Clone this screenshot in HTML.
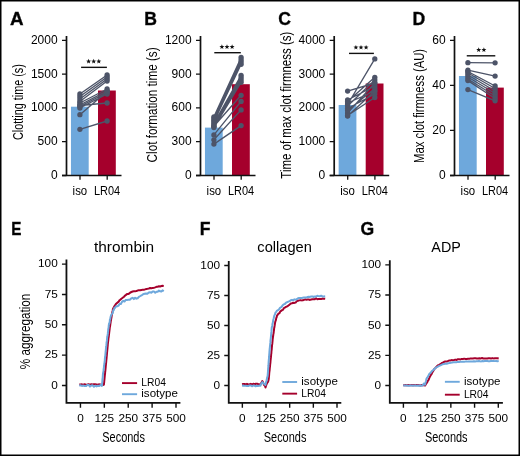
<!DOCTYPE html>
<html><head><meta charset="utf-8"><style>
html,body{margin:0;padding:0;background:#fff;}
svg{display:block;font-family:"Liberation Sans", sans-serif;will-change:transform;}
</style></head><body>
<svg width="520" height="456" viewBox="0 0 520 456">
<rect x="0" y="0" width="520" height="456" fill="#fff"/>
<text x="10.00" y="24.55" font-size="17.6" text-anchor="start" stroke="#111" stroke-width="0.35" font-weight="bold" textLength="13.6" lengthAdjust="spacingAndGlyphs">A</text>
<text x="22.60" y="102.10" font-size="14.6" text-anchor="middle" textLength="76" lengthAdjust="spacingAndGlyphs" transform="rotate(-90 22.60 102.10)">Clotting time (s)</text>
<rect x="70.95" y="106.7" width="17.75" height="68.8" fill="#6ea8dc"/>
<rect x="98.0" y="90.5" width="17.8" height="85.0" fill="#a5002c"/>
<path d="M66.5 35.9V176.3M62.0 175.5H121.5" stroke="#111" stroke-width="1.7" fill="none"/>
<path d="M62.0 40.40H66.5M62.0 74.17H66.5M62.0 107.95H66.5M62.0 141.72H66.5M62.0 175.50H66.5M80.0 175.5V179.8M107.2 175.5V179.8" stroke="#111" stroke-width="1.3" fill="none"/>
<text x="57.60" y="43.80" font-size="12" text-anchor="end">2000</text>
<text x="57.60" y="77.58" font-size="12" text-anchor="end">1500</text>
<text x="57.60" y="111.35" font-size="12" text-anchor="end">1000</text>
<text x="57.60" y="145.12" font-size="12" text-anchor="end">500</text>
<text x="57.60" y="178.90" font-size="12" text-anchor="end">0</text>
<text x="79.90" y="194.60" font-size="12.2" text-anchor="middle" textLength="14.6" lengthAdjust="spacingAndGlyphs">iso</text>
<text x="107.10" y="194.60" font-size="12.2" text-anchor="middle" textLength="26.2" lengthAdjust="spacingAndGlyphs">LR04</text>
<path d="M81.1 67.35H106.9" stroke="#111" stroke-width="1.4"/>
<polygon points="88.60,58.85 89.24,60.57 91.07,60.65 89.64,61.79 90.13,63.55 88.60,62.54 87.07,63.55 87.56,61.79 86.13,60.65 87.96,60.57" fill="#111"/>
<polygon points="93.70,58.85 94.34,60.57 96.17,60.65 94.74,61.79 95.23,63.55 93.70,62.54 92.17,63.55 92.66,61.79 91.23,60.65 93.06,60.57" fill="#111"/>
<polygon points="98.80,58.85 99.44,60.57 101.27,60.65 99.84,61.79 100.33,63.55 98.80,62.54 97.27,63.55 97.76,61.79 96.33,60.65 98.16,60.57" fill="#111"/>
<path d="M79.9 94L107.1 75M79.9 96.5L107.1 77M79.9 99L107.1 79M79.9 101.5L107.1 81M79.9 103L107.1 89M79.9 105L107.1 90.8M79.9 106.5L107.1 92.5M79.9 108L107.1 94M79.9 105.5L107.1 103M79.9 114.7L107.1 91.5M79.9 129.3L107.1 121" stroke="#4d5468" stroke-width="1.35" fill="none"/>
<circle cx="79.9" cy="94" r="2.65" fill="#4d5468"/><circle cx="107.1" cy="75" r="2.65" fill="#4d5468"/>
<circle cx="79.9" cy="96.5" r="2.65" fill="#4d5468"/><circle cx="107.1" cy="77" r="2.65" fill="#4d5468"/>
<circle cx="79.9" cy="99" r="2.65" fill="#4d5468"/><circle cx="107.1" cy="79" r="2.65" fill="#4d5468"/>
<circle cx="79.9" cy="101.5" r="2.65" fill="#4d5468"/><circle cx="107.1" cy="81" r="2.65" fill="#4d5468"/>
<circle cx="79.9" cy="103" r="2.65" fill="#4d5468"/><circle cx="107.1" cy="89" r="2.65" fill="#4d5468"/>
<circle cx="79.9" cy="105" r="2.65" fill="#4d5468"/><circle cx="107.1" cy="90.8" r="2.65" fill="#4d5468"/>
<circle cx="79.9" cy="106.5" r="2.65" fill="#4d5468"/><circle cx="107.1" cy="92.5" r="2.65" fill="#4d5468"/>
<circle cx="79.9" cy="108" r="2.65" fill="#4d5468"/><circle cx="107.1" cy="94" r="2.65" fill="#4d5468"/>
<circle cx="79.9" cy="105.5" r="2.65" fill="#4d5468"/><circle cx="107.1" cy="103" r="2.65" fill="#4d5468"/>
<circle cx="79.9" cy="114.7" r="2.65" fill="#4d5468"/><circle cx="107.1" cy="91.5" r="2.65" fill="#4d5468"/>
<circle cx="79.9" cy="129.3" r="2.65" fill="#4d5468"/><circle cx="107.1" cy="121" r="2.65" fill="#4d5468"/>
<text x="144.30" y="24.55" font-size="17.6" text-anchor="start" stroke="#111" stroke-width="0.35" font-weight="bold">B</text>
<text x="157.30" y="104.90" font-size="14.6" text-anchor="middle" textLength="115" lengthAdjust="spacingAndGlyphs" transform="rotate(-90 157.30 104.90)">Clot formation time (s)</text>
<rect x="204.95" y="127.6" width="17.75" height="47.900000000000006" fill="#6ea8dc"/>
<rect x="232.0" y="84.2" width="17.8" height="91.3" fill="#a5002c"/>
<path d="M200.5 35.9V176.3M196.0 175.5H255.5" stroke="#111" stroke-width="1.7" fill="none"/>
<path d="M196.0 40.40H200.5M196.0 74.17H200.5M196.0 107.95H200.5M196.0 141.72H200.5M196.0 175.50H200.5M214.0 175.5V179.8M241.2 175.5V179.8" stroke="#111" stroke-width="1.3" fill="none"/>
<text x="191.60" y="43.80" font-size="12" text-anchor="end">1200</text>
<text x="191.60" y="77.58" font-size="12" text-anchor="end">900</text>
<text x="191.60" y="111.35" font-size="12" text-anchor="end">600</text>
<text x="191.60" y="145.12" font-size="12" text-anchor="end">300</text>
<text x="191.60" y="178.90" font-size="12" text-anchor="end">0</text>
<text x="213.90" y="194.60" font-size="12.2" text-anchor="middle" textLength="14.6" lengthAdjust="spacingAndGlyphs">iso</text>
<text x="241.10" y="194.60" font-size="12.2" text-anchor="middle" textLength="26.2" lengthAdjust="spacingAndGlyphs">LR04</text>
<path d="M214.3 52.7H240.8" stroke="#111" stroke-width="1.4"/>
<polygon points="221.90,44.20 222.54,45.92 224.37,46.00 222.94,47.14 223.43,48.90 221.90,47.89 220.37,48.90 220.86,47.14 219.43,46.00 221.26,45.92" fill="#111"/>
<polygon points="227.00,44.20 227.64,45.92 229.47,46.00 228.04,47.14 228.53,48.90 227.00,47.89 225.47,48.90 225.96,47.14 224.53,46.00 226.36,45.92" fill="#111"/>
<polygon points="232.10,44.20 232.74,45.92 234.57,46.00 233.14,47.14 233.63,48.90 232.10,47.89 230.57,48.90 231.06,47.14 229.63,46.00 231.46,45.92" fill="#111"/>
<path d="M213.9 116.8L241.1 57.5M213.9 118.5L241.1 59.8M213.9 120.2L241.1 62M213.9 121.8L241.1 64.3M213.9 123.3L241.1 75.3M213.9 124.8L241.1 77.6M213.9 126.2L241.1 79.9M213.9 127.6L241.1 82.3M213.9 126.3L241.1 95.3M213.9 134.9L241.1 101.4M213.9 139.8L241.1 109.9M213.9 144.1L241.1 125.6" stroke="#4d5468" stroke-width="1.35" fill="none"/>
<circle cx="213.9" cy="116.8" r="2.65" fill="#4d5468"/><circle cx="241.1" cy="57.5" r="2.65" fill="#4d5468"/>
<circle cx="213.9" cy="118.5" r="2.65" fill="#4d5468"/><circle cx="241.1" cy="59.8" r="2.65" fill="#4d5468"/>
<circle cx="213.9" cy="120.2" r="2.65" fill="#4d5468"/><circle cx="241.1" cy="62" r="2.65" fill="#4d5468"/>
<circle cx="213.9" cy="121.8" r="2.65" fill="#4d5468"/><circle cx="241.1" cy="64.3" r="2.65" fill="#4d5468"/>
<circle cx="213.9" cy="123.3" r="2.65" fill="#4d5468"/><circle cx="241.1" cy="75.3" r="2.65" fill="#4d5468"/>
<circle cx="213.9" cy="124.8" r="2.65" fill="#4d5468"/><circle cx="241.1" cy="77.6" r="2.65" fill="#4d5468"/>
<circle cx="213.9" cy="126.2" r="2.65" fill="#4d5468"/><circle cx="241.1" cy="79.9" r="2.65" fill="#4d5468"/>
<circle cx="213.9" cy="127.6" r="2.65" fill="#4d5468"/><circle cx="241.1" cy="82.3" r="2.65" fill="#4d5468"/>
<circle cx="213.9" cy="126.3" r="2.65" fill="#4d5468"/><circle cx="241.1" cy="95.3" r="2.65" fill="#4d5468"/>
<circle cx="213.9" cy="134.9" r="2.65" fill="#4d5468"/><circle cx="241.1" cy="101.4" r="2.65" fill="#4d5468"/>
<circle cx="213.9" cy="139.8" r="2.65" fill="#4d5468"/><circle cx="241.1" cy="109.9" r="2.65" fill="#4d5468"/>
<circle cx="213.9" cy="144.1" r="2.65" fill="#4d5468"/><circle cx="241.1" cy="125.6" r="2.65" fill="#4d5468"/>
<text x="278.20" y="24.55" font-size="17.6" text-anchor="start" stroke="#111" stroke-width="0.35" font-weight="bold">C</text>
<text x="291.30" y="105.20" font-size="14.6" text-anchor="middle" textLength="147" lengthAdjust="spacingAndGlyphs" transform="rotate(-90 291.30 105.20)">Time of max clot firmness (s)</text>
<rect x="338.65" y="105" width="17.75" height="70.5" fill="#6ea8dc"/>
<rect x="365.7" y="83.5" width="17.8" height="92.0" fill="#a5002c"/>
<path d="M334.2 35.9V176.3M329.7 175.5H389.2" stroke="#111" stroke-width="1.7" fill="none"/>
<path d="M329.7 40.40H334.2M329.7 74.17H334.2M329.7 107.95H334.2M329.7 141.72H334.2M329.7 175.50H334.2M347.7 175.5V179.8M374.9 175.5V179.8" stroke="#111" stroke-width="1.3" fill="none"/>
<text x="325.30" y="43.80" font-size="12" text-anchor="end">4000</text>
<text x="325.30" y="77.58" font-size="12" text-anchor="end">3000</text>
<text x="325.30" y="111.35" font-size="12" text-anchor="end">2000</text>
<text x="325.30" y="145.12" font-size="12" text-anchor="end">1000</text>
<text x="325.30" y="178.90" font-size="12" text-anchor="end">0</text>
<text x="347.60" y="194.60" font-size="12.2" text-anchor="middle" textLength="14.6" lengthAdjust="spacingAndGlyphs">iso</text>
<text x="374.80" y="194.60" font-size="12.2" text-anchor="middle" textLength="26.2" lengthAdjust="spacingAndGlyphs">LR04</text>
<path d="M349.0 53.4H373.9" stroke="#111" stroke-width="1.4"/>
<polygon points="355.90,44.90 356.54,46.62 358.37,46.70 356.94,47.84 357.43,49.60 355.90,48.59 354.37,49.60 354.86,47.84 353.43,46.70 355.26,46.62" fill="#111"/>
<polygon points="361.00,44.90 361.64,46.62 363.47,46.70 362.04,47.84 362.53,49.60 361.00,48.59 359.47,49.60 359.96,47.84 358.53,46.70 360.36,46.62" fill="#111"/>
<polygon points="366.10,44.90 366.74,46.62 368.57,46.70 367.14,47.84 367.63,49.60 366.10,48.59 364.57,49.60 365.06,47.84 363.63,46.70 365.46,46.62" fill="#111"/>
<path d="M347.59999999999997 91.1L374.8 83M347.59999999999997 104.5L374.8 58.9M347.59999999999997 100L374.8 86M347.59999999999997 101.5L374.8 77.3M347.59999999999997 103L374.8 91M347.59999999999997 106L374.8 80M347.59999999999997 108.5L374.8 94M347.59999999999997 110.5L374.8 88.5M347.59999999999997 113L374.8 83M347.59999999999997 115.5L374.8 97.5M347.59999999999997 116L374.8 91" stroke="#4d5468" stroke-width="1.35" fill="none"/>
<circle cx="347.59999999999997" cy="91.1" r="2.65" fill="#4d5468"/><circle cx="374.8" cy="83" r="2.65" fill="#4d5468"/>
<circle cx="347.59999999999997" cy="104.5" r="2.65" fill="#4d5468"/><circle cx="374.8" cy="58.9" r="2.65" fill="#4d5468"/>
<circle cx="347.59999999999997" cy="100" r="2.65" fill="#4d5468"/><circle cx="374.8" cy="86" r="2.65" fill="#4d5468"/>
<circle cx="347.59999999999997" cy="101.5" r="2.65" fill="#4d5468"/><circle cx="374.8" cy="77.3" r="2.65" fill="#4d5468"/>
<circle cx="347.59999999999997" cy="103" r="2.65" fill="#4d5468"/><circle cx="374.8" cy="91" r="2.65" fill="#4d5468"/>
<circle cx="347.59999999999997" cy="106" r="2.65" fill="#4d5468"/><circle cx="374.8" cy="80" r="2.65" fill="#4d5468"/>
<circle cx="347.59999999999997" cy="108.5" r="2.65" fill="#4d5468"/><circle cx="374.8" cy="94" r="2.65" fill="#4d5468"/>
<circle cx="347.59999999999997" cy="110.5" r="2.65" fill="#4d5468"/><circle cx="374.8" cy="88.5" r="2.65" fill="#4d5468"/>
<circle cx="347.59999999999997" cy="113" r="2.65" fill="#4d5468"/><circle cx="374.8" cy="83" r="2.65" fill="#4d5468"/>
<circle cx="347.59999999999997" cy="115.5" r="2.65" fill="#4d5468"/><circle cx="374.8" cy="97.5" r="2.65" fill="#4d5468"/>
<circle cx="347.59999999999997" cy="116" r="2.65" fill="#4d5468"/><circle cx="374.8" cy="91" r="2.65" fill="#4d5468"/>
<text x="412.60" y="24.55" font-size="17.6" text-anchor="start" stroke="#111" stroke-width="0.35" font-weight="bold">D</text>
<text x="424.30" y="105.90" font-size="14.6" text-anchor="middle" textLength="114" lengthAdjust="spacingAndGlyphs" transform="rotate(-90 424.30 105.90)">Max clot firmness (AU)</text>
<rect x="458.95" y="76" width="17.75" height="99.5" fill="#6ea8dc"/>
<rect x="486.0" y="87.6" width="17.8" height="87.9" fill="#a5002c"/>
<path d="M454.5 35.9V176.3M450.0 175.5H509.5" stroke="#111" stroke-width="1.7" fill="none"/>
<path d="M450.0 40.40H454.5M450.0 85.43H454.5M450.0 130.47H454.5M450.0 175.50H454.5M468.0 175.5V179.8M495.2 175.5V179.8" stroke="#111" stroke-width="1.3" fill="none"/>
<text x="445.60" y="43.80" font-size="12" text-anchor="end">60</text>
<text x="445.60" y="88.83" font-size="12" text-anchor="end">40</text>
<text x="445.60" y="133.87" font-size="12" text-anchor="end">20</text>
<text x="445.60" y="178.90" font-size="12" text-anchor="end">0</text>
<text x="467.90" y="194.60" font-size="12.2" text-anchor="middle" textLength="14.6" lengthAdjust="spacingAndGlyphs">iso</text>
<text x="495.10" y="194.60" font-size="12.2" text-anchor="middle" textLength="26.2" lengthAdjust="spacingAndGlyphs">LR04</text>
<path d="M466.75 55.8H495.3" stroke="#111" stroke-width="1.4"/>
<polygon points="478.70,47.30 479.34,49.02 481.17,49.10 479.74,50.24 480.23,52.00 478.70,50.99 477.17,52.00 477.66,50.24 476.23,49.10 478.06,49.02" fill="#111"/>
<polygon points="483.90,47.30 484.54,49.02 486.37,49.10 484.94,50.24 485.43,52.00 483.90,50.99 482.37,52.00 482.86,50.24 481.43,49.10 483.26,49.02" fill="#111"/>
<path d="M467.9 62.7L495.1 62.8M467.9 70.2L495.1 76.1M467.9 71.5L495.1 86M467.9 73L495.1 88.5M467.9 75L495.1 91M467.9 77L495.1 93.5M467.9 79L495.1 96M467.9 80.6L495.1 98.5M467.9 89.6L495.1 100.8" stroke="#4d5468" stroke-width="1.35" fill="none"/>
<circle cx="467.9" cy="62.7" r="2.65" fill="#4d5468"/><circle cx="495.1" cy="62.8" r="2.65" fill="#4d5468"/>
<circle cx="467.9" cy="70.2" r="2.65" fill="#4d5468"/><circle cx="495.1" cy="76.1" r="2.65" fill="#4d5468"/>
<circle cx="467.9" cy="71.5" r="2.65" fill="#4d5468"/><circle cx="495.1" cy="86" r="2.65" fill="#4d5468"/>
<circle cx="467.9" cy="73" r="2.65" fill="#4d5468"/><circle cx="495.1" cy="88.5" r="2.65" fill="#4d5468"/>
<circle cx="467.9" cy="75" r="2.65" fill="#4d5468"/><circle cx="495.1" cy="91" r="2.65" fill="#4d5468"/>
<circle cx="467.9" cy="77" r="2.65" fill="#4d5468"/><circle cx="495.1" cy="93.5" r="2.65" fill="#4d5468"/>
<circle cx="467.9" cy="79" r="2.65" fill="#4d5468"/><circle cx="495.1" cy="96" r="2.65" fill="#4d5468"/>
<circle cx="467.9" cy="80.6" r="2.65" fill="#4d5468"/><circle cx="495.1" cy="98.5" r="2.65" fill="#4d5468"/>
<circle cx="467.9" cy="89.6" r="2.65" fill="#4d5468"/><circle cx="495.1" cy="100.8" r="2.65" fill="#4d5468"/>
<text x="11.20" y="234.60" font-size="17.6" text-anchor="start" stroke="#111" stroke-width="0.35" font-weight="bold" textLength="10.2" lengthAdjust="spacingAndGlyphs">E</text>
<text x="124.00" y="251.50" font-size="14" text-anchor="middle" textLength="60" lengthAdjust="spacingAndGlyphs">thrombin</text>
<path d="M66.45 259.5V403.75M65.65 402.85H180.4" stroke="#111" stroke-width="1.8" fill="none"/>
<path d="M61.95 264.10H66.45M61.95 294.45H66.45M61.95 324.80H66.45M61.95 355.15H66.45M61.95 385.50H66.45M80.45 402.85V407.65000000000003M104.34 402.85V407.65000000000003M128.22 402.85V407.65000000000003M152.11 402.85V407.65000000000003M176.00 402.85V407.65000000000003" stroke="#111" stroke-width="1.4" fill="none"/>
<text x="57.75" y="267.40" font-size="11.8" text-anchor="end">100</text>
<text x="57.75" y="297.75" font-size="11.8" text-anchor="end">75</text>
<text x="57.75" y="328.10" font-size="11.8" text-anchor="end">50</text>
<text x="57.75" y="358.45" font-size="11.8" text-anchor="end">25</text>
<text x="57.75" y="388.80" font-size="11.8" text-anchor="end">0</text>
<text x="80.45" y="422.40" font-size="11.8" text-anchor="middle">0</text>
<text x="104.34" y="422.40" font-size="11.8" text-anchor="middle">125</text>
<text x="128.22" y="422.40" font-size="11.8" text-anchor="middle">250</text>
<text x="152.11" y="422.40" font-size="11.8" text-anchor="middle">375</text>
<text x="176.00" y="422.40" font-size="11.8" text-anchor="middle">500</text>
<text x="123.62" y="442.00" font-size="14.4" text-anchor="middle" textLength="42.6" lengthAdjust="spacingAndGlyphs">Seconds</text>
<path d="M79.30 384.60L80.64 384.48L81.97 384.36L83.31 384.71L84.65 384.30L85.99 384.63L87.33 384.51L88.66 384.29L90.00 384.61L91.26 384.28L92.53 384.55L93.79 384.30L95.05 384.31L96.32 384.55L97.58 384.83L98.85 384.34L100.11 384.41L101.37 384.69L102.64 384.91L103.90 384.65L104.03 383.31L104.15 382.50L104.28 380.63L104.40 379.98L104.53 378.36L104.65 377.04L104.78 375.80L104.90 374.72L105.03 373.85L105.15 372.19L105.28 371.25L105.40 370.07L105.53 368.67L105.65 367.57L105.78 366.01L105.90 364.79L106.01 363.69L106.12 362.82L106.23 361.43L106.34 360.15L106.46 359.13L106.57 357.83L106.68 356.52L106.79 355.66L106.90 354.39L107.01 352.87L107.12 351.89L107.23 350.65L107.34 349.69L107.46 348.38L107.57 346.87L107.68 346.15L107.79 344.34L107.90 343.34L108.05 342.36L108.19 340.73L108.34 339.75L108.48 338.22L108.63 337.44L108.78 336.29L108.92 334.94L109.07 333.94L109.22 332.33L109.36 331.38L109.51 330.10L109.65 328.87L109.80 327.57L109.99 326.64L110.17 325.51L110.36 323.98L110.55 322.91L110.74 321.29L110.92 320.54L111.11 319.30L111.30 318.35L111.53 317.01L111.76 315.42L111.99 314.28L112.21 313.26L112.44 311.59L112.67 310.69L112.90 309.27L113.60 307.80L114.30 306.32L115.00 305.39L115.88 304.04L116.75 303.22L117.62 302.42L118.50 301.86L119.38 300.41L120.25 299.76L121.12 298.93L122.00 298.27L123.00 297.46L124.00 296.73L125.00 295.56L126.00 294.90L127.00 294.10L128.12 293.97L129.24 293.52L130.36 292.46L131.48 291.97L132.60 291.51L133.86 291.27L135.12 291.21L136.38 291.04L137.64 290.57L138.90 290.15L140.14 290.19L141.38 289.91L142.61 289.80L143.85 289.82L145.09 289.38L146.33 289.01L147.56 288.83L148.80 288.62L150.08 287.92L151.37 288.25L152.65 287.90L153.93 287.70L155.22 287.38L156.50 286.82L157.71 286.68L158.92 286.32L160.12 286.54L161.33 285.99L162.54 285.85L163.75 286.00" stroke="#a5002c" stroke-width="2" fill="none" stroke-linejoin="round"/>
<path d="M79.30 385.80L80.64 385.29L81.97 385.91L83.31 385.58L84.65 386.06L85.99 386.11L87.33 385.01L88.66 384.91L90.00 386.57L91.32 385.39L92.64 385.30L93.97 386.79L95.29 385.71L96.61 386.41L97.93 385.65L99.26 385.94L100.58 384.93L101.90 385.87L102.02 385.10L102.14 383.17L102.25 382.37L102.37 381.00L102.49 378.55L102.61 378.70L102.73 377.13L102.85 375.31L102.96 373.53L103.08 373.97L103.20 371.95L103.37 371.16L103.54 370.20L103.71 368.59L103.88 367.72L104.05 365.39L104.22 364.92L104.39 362.93L104.56 362.63L104.73 361.24L104.90 358.39L105.03 357.23L105.15 356.16L105.28 356.42L105.40 354.12L105.53 353.27L105.65 351.38L105.78 350.55L105.90 349.07L106.03 347.76L106.15 347.00L106.28 345.76L106.40 345.16L106.53 343.48L106.65 342.73L106.78 341.35L106.90 340.38L107.07 338.49L107.25 336.22L107.42 336.36L107.59 335.31L107.76 333.94L107.94 332.01L108.11 331.05L108.28 328.79L108.45 328.77L108.63 327.00L108.80 325.17L109.08 323.38L109.37 323.61L109.65 322.53L109.93 319.38L110.22 319.45L110.50 317.32L111.07 315.40L111.63 314.29L112.20 313.84L112.76 312.87L113.32 310.03L113.88 309.99L114.44 307.67L115.00 307.84L116.17 306.16L117.33 306.36L118.50 305.66L119.67 303.88L120.83 304.03L122.00 301.82L123.25 300.93L124.50 301.55L125.75 299.99L127.00 299.89L128.40 299.87L129.80 299.82L131.20 298.46L132.60 297.78L133.86 299.12L135.12 297.69L136.38 298.66L137.64 298.21L138.90 296.86L139.95 296.25L141.00 295.59L142.05 295.06L143.10 294.19L144.53 293.74L145.95 293.49L147.38 293.76L148.80 292.51L150.08 292.23L151.37 292.67L152.65 291.58L153.93 291.57L155.22 292.79L156.50 291.74L157.71 291.73L158.92 290.59L160.12 291.33L161.33 291.59L162.54 290.41L163.75 291.30" stroke="#6ea8dc" stroke-width="2" fill="none" stroke-linejoin="round"/>
<path d="M122 383.1H137.1" stroke="#a5002c" stroke-width="1.9"/>
<text x="141.30" y="386.40" font-size="11" text-anchor="start" textLength="24.6" lengthAdjust="spacingAndGlyphs">LR04</text>
<path d="M122 394.2H137.1" stroke="#6ea8dc" stroke-width="1.9"/>
<text x="141.30" y="396.70" font-size="11" text-anchor="start" textLength="36.6" lengthAdjust="spacingAndGlyphs">isotype</text>
<text x="29.70" y="331.40" font-size="14.2" text-anchor="middle" textLength="75.5" lengthAdjust="spacingAndGlyphs" transform="rotate(-90 29.70 331.40)">% aggregation</text>
<text x="199.80" y="234.60" font-size="17.6" text-anchor="start" stroke="#111" stroke-width="0.35" font-weight="bold">F</text>
<text x="284.60" y="251.50" font-size="14" text-anchor="middle" textLength="54.5" lengthAdjust="spacingAndGlyphs">collagen</text>
<path d="M228.75 260.9V403.75M227.95 402.85H341.3" stroke="#111" stroke-width="1.8" fill="none"/>
<path d="M224.25 265.50H228.75M224.25 295.50H228.75M224.25 325.50H228.75M224.25 355.50H228.75M224.25 385.50H228.75M242.35 402.85V407.65000000000003M266.01 402.85V407.65000000000003M289.68 402.85V407.65000000000003M313.34 402.85V407.65000000000003M337.00 402.85V407.65000000000003" stroke="#111" stroke-width="1.4" fill="none"/>
<text x="220.05" y="268.80" font-size="11.8" text-anchor="end">100</text>
<text x="220.05" y="298.80" font-size="11.8" text-anchor="end">75</text>
<text x="220.05" y="328.80" font-size="11.8" text-anchor="end">50</text>
<text x="220.05" y="358.80" font-size="11.8" text-anchor="end">25</text>
<text x="220.05" y="388.80" font-size="11.8" text-anchor="end">0</text>
<text x="242.35" y="422.40" font-size="11.8" text-anchor="middle">0</text>
<text x="266.01" y="422.40" font-size="11.8" text-anchor="middle">125</text>
<text x="289.68" y="422.40" font-size="11.8" text-anchor="middle">250</text>
<text x="313.34" y="422.40" font-size="11.8" text-anchor="middle">375</text>
<text x="337.00" y="422.40" font-size="11.8" text-anchor="middle">500</text>
<text x="285.07" y="442.00" font-size="14.4" text-anchor="middle" textLength="42.6" lengthAdjust="spacingAndGlyphs">Seconds</text>
<path d="M242.00 384.30L243.25 384.10L244.50 383.91L245.75 384.52L247.00 383.84L248.25 384.41L249.50 384.21L250.75 383.86L252.00 384.41L253.29 383.82L254.57 384.26L255.86 383.80L257.14 383.79L258.43 384.17L259.71 384.62L261.00 383.75L261.43 382.63L261.87 381.89L262.30 381.04L262.90 382.09L263.50 383.38L264.17 385.24L264.83 385.29L265.50 387.43L266.02 385.61L266.53 384.31L267.05 383.14L267.57 382.24L268.08 381.71L268.60 379.82L268.72 379.06L268.85 377.90L268.97 376.34L269.09 375.32L269.22 373.50L269.34 372.26L269.46 371.20L269.59 370.53L269.71 369.00L269.84 367.62L269.96 366.71L270.08 365.32L270.21 363.90L270.33 363.26L270.45 361.91L270.58 360.13L270.70 359.29L270.82 357.99L270.95 357.17L271.07 355.75L271.19 353.98L271.32 353.57L271.44 351.29L271.56 350.41L271.69 349.58L271.81 347.61L271.94 346.77L272.06 344.99L272.18 344.51L272.31 343.38L272.43 341.91L272.55 341.03L272.68 339.12L272.80 338.33L272.98 336.99L273.15 335.75L273.32 334.37L273.50 333.61L273.68 332.51L273.85 330.72L274.02 329.72L274.20 327.77L274.38 327.32L274.55 326.03L274.72 325.22L274.90 323.79L275.25 321.91L275.60 320.80L275.95 319.90L276.30 317.89L276.65 317.19L277.00 315.60L277.80 314.54L278.60 313.47L279.40 313.32L280.20 311.56L281.12 310.84L282.04 310.15L282.96 309.87L283.88 308.06L284.80 307.64L286.00 306.88L287.20 306.41L288.40 305.46L289.60 304.64L290.80 303.50L292.00 303.22L293.20 302.72L294.40 302.91L295.60 302.56L296.80 301.16L298.00 300.75L299.20 300.38L300.40 300.23L301.60 300.38L302.80 300.36L304.00 299.82L305.20 299.35L306.40 299.70L307.60 299.49L308.80 299.58L310.01 299.93L311.23 299.50L312.44 299.18L313.65 299.19L314.86 299.15L316.07 298.29L317.29 299.19L318.50 298.94L319.84 299.09L321.18 299.04L322.52 298.59L323.86 298.64L325.20 298.80" stroke="#a5002c" stroke-width="2" fill="none" stroke-linejoin="round"/>
<path d="M242.00 385.80L243.25 385.55L244.50 385.87L245.75 385.71L247.00 385.95L248.25 385.99L249.50 385.44L250.75 385.40L252.00 386.24L253.21 385.62L254.43 385.55L255.64 386.27L256.86 385.70L258.07 386.02L259.29 385.62L260.50 385.74L261.10 383.98L261.70 383.20L262.30 382.17L263.50 383.52L265.50 384.84L265.80 383.54L266.10 381.71L266.40 381.17L266.70 379.78L267.00 378.26L267.30 376.76L267.60 376.37L267.70 374.73L267.79 373.73L267.89 372.64L267.98 371.23L268.08 370.19L268.17 368.42L268.27 367.58L268.36 365.98L268.46 365.23L268.55 363.92L268.65 361.90L268.75 360.69L268.84 359.53L268.94 359.03L269.03 357.25L269.13 356.20L269.22 354.63L269.32 353.59L269.41 352.22L269.51 350.94L269.60 349.93L269.70 348.68L269.82 347.77L269.95 346.31L270.07 345.32L270.19 344.02L270.32 342.91L270.44 341.36L270.56 339.62L270.69 339.08L270.81 337.95L270.94 336.65L271.06 335.08L271.18 333.99L271.31 332.25L271.43 331.64L271.55 330.14L271.68 328.62L271.80 327.16L272.03 326.78L272.27 325.73L272.50 323.66L272.73 323.19L272.97 321.62L273.20 320.18L273.43 319.15L273.67 318.45L273.90 317.37L274.42 315.24L274.95 314.51L275.48 312.64L276.00 312.02L277.05 310.58L278.10 310.08L279.15 309.13L280.20 307.61L281.35 307.17L282.50 305.56L283.65 304.40L284.80 304.00L286.00 302.71L287.20 302.15L288.40 301.63L289.60 301.11L290.80 300.29L292.00 299.82L293.20 300.28L294.40 299.36L295.60 299.65L296.80 299.22L298.00 298.34L299.20 298.06L300.40 297.96L301.60 297.92L302.80 297.71L304.00 297.51L305.20 297.41L306.40 297.57L307.60 296.97L308.80 296.73L310.01 296.95L311.23 296.39L312.44 296.38L313.65 296.98L314.86 296.45L316.07 296.40L317.29 295.79L318.50 296.12L319.84 296.30L321.18 295.76L322.52 296.38L323.86 296.41L325.20 296.30" stroke="#6ea8dc" stroke-width="2" fill="none" stroke-linejoin="round"/>
<path d="M282.3 382H297.1" stroke="#6ea8dc" stroke-width="1.9"/>
<text x="301.30" y="385.00" font-size="11" text-anchor="start" textLength="36.6" lengthAdjust="spacingAndGlyphs">isotype</text>
<path d="M282.3 393.65H297.1" stroke="#a5002c" stroke-width="1.9"/>
<text x="301.30" y="396.90" font-size="11" text-anchor="start" textLength="24.6" lengthAdjust="spacingAndGlyphs">LR04</text>
<text x="360.60" y="234.60" font-size="17.6" text-anchor="start" stroke="#111" stroke-width="0.35" font-weight="bold">G</text>
<text x="446.10" y="251.50" font-size="14" text-anchor="middle" textLength="29.5" lengthAdjust="spacingAndGlyphs">ADP</text>
<path d="M389.8 260.29999999999995V403.75M389.0 402.85H502.9" stroke="#111" stroke-width="1.8" fill="none"/>
<path d="M385.3 264.90H389.8M385.3 295.05H389.8M385.3 325.20H389.8M385.3 355.35H389.8M385.3 385.50H389.8M403.40 402.85V407.65000000000003M427.12 402.85V407.65000000000003M450.85 402.85V407.65000000000003M474.57 402.85V407.65000000000003M498.30 402.85V407.65000000000003" stroke="#111" stroke-width="1.4" fill="none"/>
<text x="381.10" y="268.20" font-size="11.8" text-anchor="end">100</text>
<text x="381.10" y="298.35" font-size="11.8" text-anchor="end">75</text>
<text x="381.10" y="328.50" font-size="11.8" text-anchor="end">50</text>
<text x="381.10" y="358.65" font-size="11.8" text-anchor="end">25</text>
<text x="381.10" y="388.80" font-size="11.8" text-anchor="end">0</text>
<text x="403.40" y="422.40" font-size="11.8" text-anchor="middle">0</text>
<text x="427.12" y="422.40" font-size="11.8" text-anchor="middle">125</text>
<text x="450.85" y="422.40" font-size="11.8" text-anchor="middle">250</text>
<text x="474.57" y="422.40" font-size="11.8" text-anchor="middle">375</text>
<text x="498.30" y="422.40" font-size="11.8" text-anchor="middle">500</text>
<text x="446.25" y="442.00" font-size="14.4" text-anchor="middle" textLength="42.6" lengthAdjust="spacingAndGlyphs">Seconds</text>
<path d="M403.20 385.30L404.42 385.19L405.63 385.09L406.85 385.39L408.07 385.04L409.28 385.32L410.50 385.22L411.72 385.03L412.93 385.30L414.15 385.02L415.37 385.26L416.58 385.04L417.80 385.05L419.02 385.25L420.23 385.50L421.45 385.07L422.67 385.13L423.88 385.38L425.10 385.57L425.83 384.22L426.55 382.99L427.27 382.21L428.00 380.53L428.58 379.86L429.16 378.35L429.74 377.11L430.32 375.93L430.90 374.89L431.56 374.03L432.22 372.49L432.88 371.57L433.54 370.44L434.20 369.12L435.18 368.28L436.15 367.04L437.12 366.09L438.10 365.22L439.24 364.83L440.38 364.00L441.52 363.25L442.66 362.73L443.80 361.97L445.08 361.56L446.37 361.54L447.65 361.17L448.93 360.58L450.22 360.46L451.50 360.12L452.78 360.20L454.06 359.99L455.33 359.61L456.61 359.90L457.89 359.26L459.17 359.32L460.44 359.40L461.72 358.91L463.00 358.99L464.24 358.65L465.49 358.95L466.73 358.93L467.98 358.73L469.22 358.84L470.47 358.42L471.71 358.57L472.96 358.43L474.20 358.35L475.51 358.27L476.82 358.50L478.13 358.57L479.44 358.28L480.76 358.40L482.07 358.04L483.38 358.42L484.69 358.39L486.00 358.60L487.27 358.51L488.54 358.21L489.81 358.29L491.08 358.48L492.35 358.11L493.62 358.40L494.89 358.24L496.16 358.23L497.43 358.22L498.70 358.50" stroke="#a5002c" stroke-width="2" fill="none" stroke-linejoin="round"/>
<path d="M403.20 385.60L404.42 385.50L405.64 385.62L406.86 385.55L408.07 385.64L409.29 385.65L410.51 385.43L411.73 385.41L412.95 385.73L414.17 385.50L415.39 385.49L416.61 385.80L417.82 385.59L419.04 385.73L420.26 385.59L421.48 385.66L422.70 385.46L423.80 383.55L425.00 384.65L425.38 383.08L425.75 381.75L426.12 380.29L426.50 378.63L427.23 377.70L427.95 376.44L428.67 375.12L429.40 373.81L430.37 373.05L431.33 371.79L432.30 370.79L433.27 370.00L434.25 369.09L435.23 368.32L436.20 367.26L437.40 366.82L438.60 366.08L439.80 365.67L441.00 365.05L442.43 364.39L443.85 364.05L445.27 363.74L446.70 363.69L448.06 363.23L449.42 363.07L450.78 362.70L452.14 362.54L453.50 362.25L454.86 362.14L456.21 362.13L457.57 362.03L458.93 362.06L460.29 361.87L461.64 361.87L463.00 361.74L464.22 361.76L465.44 361.60L466.67 361.37L467.89 361.61L469.11 361.62L470.33 361.56L471.56 361.39L472.78 361.42L474.00 361.18L475.20 361.41L476.40 361.29L477.60 361.15L478.80 361.05L480.00 361.34L481.20 361.38L482.40 361.00L483.60 361.26L484.80 361.08L486.00 360.96L487.27 361.01L488.54 361.19L489.81 361.22L491.08 360.88L492.35 361.10L493.62 360.86L494.89 361.12L496.16 360.95L497.43 361.16L498.70 361.00" stroke="#6ea8dc" stroke-width="2" fill="none" stroke-linejoin="round"/>
<path d="M444.9 381.8H459.7" stroke="#6ea8dc" stroke-width="1.9"/>
<text x="463.90" y="384.80" font-size="11" text-anchor="start" textLength="36.6" lengthAdjust="spacingAndGlyphs">isotype</text>
<path d="M444.9 394.7H459.7" stroke="#a5002c" stroke-width="1.9"/>
<text x="463.90" y="397.60" font-size="11" text-anchor="start" textLength="24.6" lengthAdjust="spacingAndGlyphs">LR04</text>
<path d="M0.75 0V456M0 0.75H520M519.25 0V456M0 455.25H520" stroke="#000" stroke-width="1.5" fill="none"/>
</svg>
</body></html>
